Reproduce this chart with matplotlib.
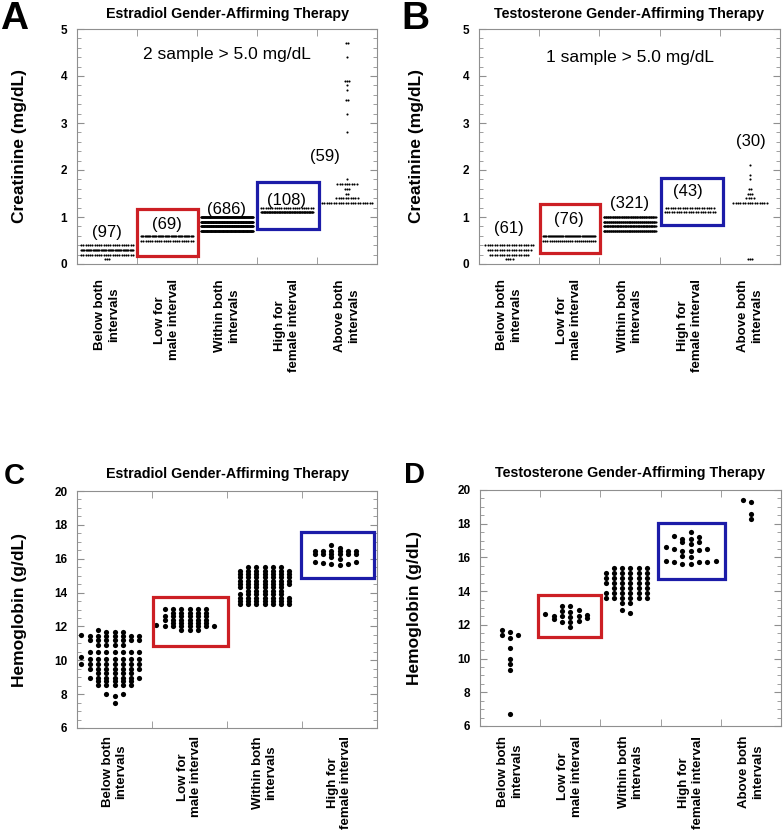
# Creatinine and hemoglobin dot plots, four panels (A-D)
import numpy as np
import matplotlib.pyplot as plt
from matplotlib.patches import Rectangle

plt.rcParams['font.family'] = ['Liberation Sans', 'DejaVu Sans']

# ---- data -------------------------------------------------------------
cats5 = ['Below both\nintervals', 'Low for\nmale interval', 'Within both\nintervals',
         'High for\nfemale interval', 'Above both\nintervals']
cats4 = cats5[:4]

# creatinine (mg/dL): levels and number of samples at each level, per category
e_cre_levels = [[0.1, 0.2, 0.3, 0.4], [0.5, 0.6], [0.7, 0.8, 0.9, 1.0], [1.1, 1.2],
                [1.3, 1.4, 1.5, 1.6, 1.7, 1.8, 2.8, 3.2, 3.5, 3.7, 3.8, 3.9, 4.4, 4.7]]
e_cre_counts = [[3, 24, 46, 24], [24, 45], [170, 180, 176, 160], [84, 24],
                [22, 10, 2, 3, 9, 1, 1, 1, 2, 1, 1, 3, 1, 2]]
t_cre_levels = [[0.1, 0.2, 0.3, 0.4], [0.5, 0.6], [0.7, 0.8, 0.9, 1.0], [1.1, 1.2],
                [0.1, 1.3, 1.4, 1.5, 1.6, 1.8, 1.9, 2.1]]
t_cre_counts = [[4, 17, 19, 21], [26, 50], [80, 85, 80, 76], [22, 21],
                [3, 15, 4, 3, 2, 1, 1, 1]]

# hemoglobin (g/dL)
e_hgb_levels = [[7.5, 7.9, 8.0, 8.55, 8.75, 8.95, 9.25, 9.5, 9.8, 10.05, 10.2, 10.5, 10.9,
                 11.2, 11.45, 11.5, 11.7, 11.8],
                [11.8, 12.0, 12.1, 12.2, 12.4, 12.6, 12.8, 13.05],
                [13.3, 13.5, 13.7, 13.9, 14.1, 14.3, 14.5, 14.7, 14.9, 15.1, 15.3, 15.5],
                [15.65, 15.7, 15.75, 15.8, 16.0, 16.1, 16.25, 16.45, 16.65, 16.8]]
e_hgb_counts = [[1, 1, 2, 5, 5, 7, 5, 7, 8, 7, 1, 7, 4, 7, 7, 1, 3, 1],
                [3, 7, 1, 5, 6, 6, 5, 6],
                [7, 7, 7, 6, 5, 6, 7, 7, 7, 7, 7, 5],
                [1, 2, 1, 2, 1, 1, 6, 6, 1, 1]]
t_hgb_levels = [[6.7, 9.3, 9.7, 10.0, 10.6, 11.2, 11.4, 11.6, 11.7],
                [11.85, 12.15, 12.2, 12.35, 12.4, 12.45, 12.5, 12.55, 12.6, 12.65,
                 12.75, 12.85, 12.9, 13.1],
                [12.7, 12.9, 13.3, 13.6, 13.9, 14.2, 14.5, 14.8, 15.1, 15.4],
                [15.6, 15.7, 15.8, 16.0, 16.1, 16.4, 16.45, 16.5, 16.6, 16.8, 16.9,
                 17.1, 17.2, 17.3, 17.5],
                [18.3, 18.6, 19.3, 19.4]]
t_hgb_counts = [[1, 1, 1, 1, 1, 1, 2, 1, 1],
                [1, 2, 1, 1, 1, 1, 1, 2, 1, 1, 1, 1, 1, 2],
                [1, 1, 2, 6, 6, 5, 6, 6, 6, 5],
                [2, 3, 2, 1, 1, 2, 1, 2, 1, 1, 2, 2, 1, 1, 1],
                [1, 1, 1, 1]]

# ---- layout -----------------------------------------------------------
W, H = 783, 832
fig = plt.figure(figsize=(W / 100, H / 100), dpi=100)
GRAY = '#8f8f8f'
RED = '#cc1f24'
BLUE = '#1c1ca8'


def add_axes(left, top, right, bottom):
    return fig.add_axes([left / W, 1 - bottom / H, (right - left) / W, (bottom - top) / H])


def style(ax, ncat, ylim, ystep, yminor, labels, pad):
    ax.set_xlim(-0.5, ncat - 0.5)
    ax.set_ylim(*ylim)
    ax.set_xticks(range(ncat))
    ax.set_xticklabels(labels, rotation=90, ha='center', va='top', fontsize=9.5,
                       fontweight='bold', multialignment='center')
    ax.tick_params(axis='x', which='major', length=0, pad=pad)
    ax.set_xticks(np.arange(ncat - 1) + 0.5, minor=True)
    ax.tick_params(axis='x', which='minor', direction='in', length=5, top=True, color=GRAY)
    ax.set_yticks(np.arange(ylim[0], ylim[1] + 0.01, ystep))
    ax.set_yticks(np.arange(ylim[0], ylim[1] + 0.01, yminor), minor=True)
    ax.tick_params(axis='y', which='both', direction='in', right=True, color=GRAY)
    ax.tick_params(axis='y', which='major', length=5, labelsize=8.5, pad=7)
    ax.tick_params(axis='y', which='minor', length=3)
    for lab in ax.get_yticklabels():
        lab.set_fontweight('bold')
    for sp in ax.spines.values():
        sp.set_color(GRAY)
        sp.set_linewidth(0.8)


def px_per_unit(ax, ncat):
    return ax.get_position().width * W / ncat


def draw_rows(ax, levels, counts, ncat, s0=2.4, wmax=52):
    # tiny dots, one horizontal row per level, compressed when crowded
    pu = px_per_unit(ax, ncat)
    for i, (lv, ct) in enumerate(zip(levels, counts)):
        xs, ys = [], []
        for v, n in zip(lv, ct):
            w = min((n - 1) * s0, wmax) / pu
            xs.extend(i + np.linspace(-w / 2, w / 2, n))
            ys.extend([v] * n)
        ax.scatter(xs, ys, s=2.3, c='black', linewidths=0, zorder=3)


def draw_swarm(ax, levels, counts, ncat, b, step=8.3):
    # large dots: values binned, each bin spread center-out on a column grid
    pu = px_per_unit(ax, ncat)
    for i, (lv, ct) in enumerate(zip(levels, counts)):
        vals = np.sort(np.repeat(lv, ct))
        xs = np.zeros(len(vals))
        k = 0
        while k < len(vals):
            j = k
            while j < len(vals) and vals[j] - vals[k] < b:
                j += 1
            for m in range(j - k):
                off = ((m + 1) // 2) * (-1 if m % 2 else 1)
                xs[k + m] = i + off * step / pu
            k = j
        ax.scatter(xs, vals, s=14, c='black', linewidths=0, zorder=3)


def box(ax, x0, x1, y0, y1, col):
    ax.add_patch(Rectangle((x0, y0), x1 - x0, y1 - y0, fill=False, ec=col, lw=2.3,
                           zorder=4, clip_on=False))


# ---- panel A ----------------------------------------------------------
axA = add_axes(77, 29, 377, 264)
style(axA, 5, (0, 5), 1, 0.2, cats5, 11)
draw_rows(axA, e_cre_levels, e_cre_counts, 5)
box(axA, 0.5, 1.52, 0.17, 1.17, RED)
box(axA, 2.5, 3.53, 0.75, 1.75, BLUE)
for x, y, c in zip([0, 1, 2, 3, 3.63], [0.66, 0.83, 1.15, 1.35, 2.28], e_cre_counts):
    axA.text(x, y, f'({sum(c)})', ha='center', va='center', fontsize=12, zorder=5)
axA.text(2.0, 4.45, '2 sample > 5.0 mg/dL', ha='center', va='center', fontsize=12.5)

# ---- panel B ----------------------------------------------------------
axB = add_axes(479, 29, 780, 264)
style(axB, 5, (0, 5), 1, 0.2, cats5, 11)
draw_rows(axB, t_cre_levels, t_cre_counts, 5)
box(axB, 0.51, 1.51, 0.23, 1.27, RED)
box(axB, 2.53, 3.56, 0.84, 1.83, BLUE)
for x, y, c in zip([0, 1, 2, 2.97, 4.01], [0.76, 0.94, 1.29, 1.54, 2.6], t_cre_counts):
    axB.text(x, y, f'({sum(c)})', ha='center', va='center', fontsize=12, zorder=5)
axB.text(2.0, 4.4, '1 sample > 5.0 mg/dL', ha='center', va='center', fontsize=12.5)

# ---- panel C ----------------------------------------------------------
axC = add_axes(77, 491, 377, 728)
style(axC, 4, (6, 20), 2, 0.5, cats4, 6)
draw_swarm(axC, e_hgb_levels, e_hgb_counts, 4, b=0.18)
box(axC, 0.51, 1.51, 10.87, 13.72, RED)
box(axC, 2.49, 3.46, 14.86, 17.57, BLUE)

# ---- panel D ----------------------------------------------------------
axD = add_axes(480, 490, 781, 726)
style(axD, 5, (6, 20), 2, 0.5, cats5, 7)
draw_swarm(axD, t_hgb_levels, t_hgb_counts, 5, b=0.28)
box(axD, 0.46, 1.51, 11.3, 13.8, RED)
box(axD, 2.46, 3.57, 14.73, 18.07, BLUE)

# ---- titles, panel letters, y labels ---------------------------------
titles = ['Estradiol Gender-Affirming Therapy', 'Testosterone Gender-Affirming Therapy']
for cx, cy, t in [(227, 14, titles[0]), (629, 14, titles[1]),
                  (227, 474, titles[0]), (630, 473, titles[1])]:
    fig.text(cx / W, 1 - cy / H, t, ha='center', va='center', fontsize=10.3, fontweight='bold')

for x, y, s, fs in [(0, 1, 'A', 28), (401, 1, 'B', 28), (4, 462, 'C', 21), (404, 461, 'D', 21)]:
    fig.text(x / W, 1 - y / H, s, ha='left', va='top', fontsize=fs, fontweight='bold')

for x, y, s in [(20, 146, 'Creatinine (mg/dL)'), (416, 146, 'Creatinine (mg/dL)'),
                (20, 610, 'Hemoglobin (g/dL)'), (415, 608, 'Hemoglobin (g/dL)')]:
    fig.text(x / W, 1 - y / H, s, rotation=90, ha='center', va='center', fontsize=12.5,
             fontweight='bold')

fig.savefig('out.png', dpi=100)
